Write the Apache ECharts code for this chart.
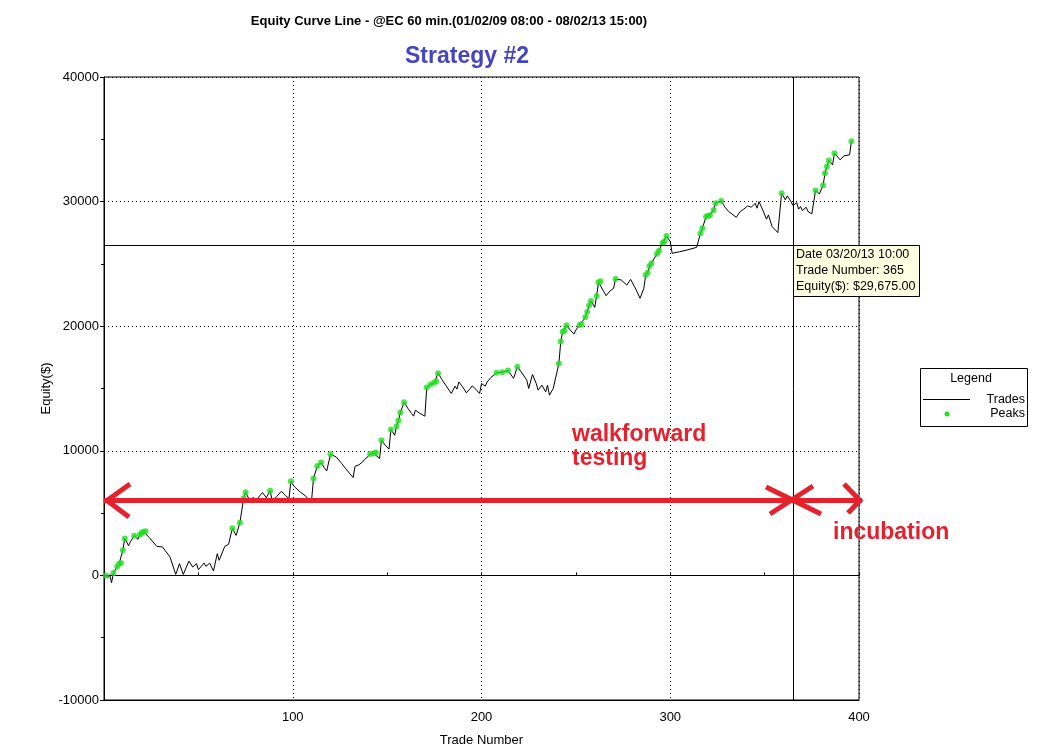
<!DOCTYPE html>
<html>
<head>
<meta charset="utf-8">
<title>Equity Curve Line</title>
<script src="https://cdn.jsdelivr.net/npm/echarts@6/dist/echarts.min.js"></script>
<style>
  html, body { margin: 0; padding: 0; background: #fff; }
  #chart { width: 1038px; height: 756px; }
</style>
</head>
<body>
<div id="chart"></div>
<script>
// trade number / equity ($)
const tradePoints = [
  [1,0],[2,-200],[3,50],[4,-590],[5,200],[7,720],[8,940],[9,990],[10,2010],[11,2970],
  [13,2380],[14,2700],[16,3190],[18,2890],[19,3270],[20,3430],[21,3510],[22,3540],[24,3030],[26,2680],
  [28,2330],[29,2490],[31,2280],[35,1470],[38,80],[40,940],[42,80],[45,1150],[47,670],[49,940],
  [50,460],[53,990],[54,720],[56,990],[58,350],[60,1740],[61,1210],[64,2330],[66,2490],[68,3780],
  [70,3210],[72,4230],[74,6190],[75,6670],[77,6080],[79,6240],[81,6080],[82,6290],[84,6650],[86,6240],
  [88,6800],[89,6080],[91,6240],[94,6750],[96,6430],[98,6160],[99,7550],[101,7100],[102,6970],[104,6690],
  [107,6350],[108,6160],[110,6080],[111,7770],[113,8780],[115,9060],[117,8570],[118,8380],[120,9720],[123,9510],
  [126,8970],[128,8570],[132,7850],[133,8760],[135,8870],[137,9100],[138,9300],[140,9560],[141,9750],[143,9780],
  [144,9860],[146,9380],[147,10850],[149,10450],[151,10130],[152,11710],[154,11250],[155,11970],[156,12430],[157,13070],
  [159,13900],[161,13400],[163,12990],[164,12780],[165,13260],[167,13040],[170,12780],[171,15080],[173,15320],[175,15490],
  [176,15590],[177,16230],[179,15730],[181,15270],[184,14600],[186,15190],[187,14950],[188,15530],[190,15130],[192,14650],
  [194,15000],[195,15210],[197,14940],[199,14600],[200,15400],[202,15190],[203,15530],[205,15890],[208,16260],[211,16310],
  [214,16450],[217,15810],[219,16740],[221,16340],[224,15670],[225,15000],[227,16130],[229,15400],[230,14870],[232,15270],
  [234,14730],[235,15270],[236,14460],[238,15000],[241,17010],[242,18780],[243,19550],[244,19640],[245,20070],[247,19690],
  [249,19370],[250,19690],[252,20100],[253,20150],[255,20710],[256,21130],[257,21670],[258,22020],[260,21510],[261,22420],
  [262,23520],[263,23600],[266,22450],[268,22820],[270,23040],[271,23790],[274,23710],[277,23300],[279,23760],[282,22900],
  [284,22240],[286,23040],[287,24110],[288,24290],[289,24830],[290,25050],[293,25820],[294,26060],[296,26700],[297,26820],
  [298,27240],[300,26790],[301,25850],[305,25980],[309,26120],[314,26330],[315,26440],[316,27460],[317,27860],[319,28790],
  [320,28870],[321,28900],[323,29330],[324,29870],[327,30050],[329,29550],[331,29200],[332,29330],[335,28740],[337,29200],
  [339,29400],[341,29650],[343,29550],[345,29870],[346,29470],[347,30000],[349,29330],[351,28580],[352,28930],[354,27990],
  [357,27510],[359,30670],[361,30140],[362,30460],[364,30000],[365,29675],[367,29920],[368,29390],[369,29600],[370,29280],
  [372,29550],[373,29200],[375,29010],[377,30890],[379,30620],[381,31320],[382,32280],[383,32810],[384,33290],[386,32950],
  [387,33890],[390,33350],[392,33670],[395,33750],[396,34850]
];

// trades marked as new equity peaks (green dots)
const peakTrades = [
  1,5,7,8,9,10,11,16,19,20,21,22,68,72,74,75,88,99,111,113,115,120,141,143,144,147,
  152,155,156,157,159,171,173,175,176,177,208,211,214,219,241,242,243,244,245,252,253,
  255,256,257,258,261,262,263,271,287,288,289,290,293,294,296,297,298,316,317,319,320,
  321,323,324,327,359,377,381,382,383,384,387,396
];

// cursor position shown by the crosshair / info box
const cursorTrade = 365;
const cursorEquity = 26530;
const cursorInfo = ['Date 03/20/13 10:00', 'Trade Number: 365', 'Equity($): $29,675.00'];

const equityByTrade = {};
tradePoints.forEach(function (p) { equityByTrade[p[0]] = p[1]; });
const peakPoints = peakTrades.map(function (t) { return [t, equityByTrade[t]]; });

const FONT = '"Liberation Sans", Arial, sans-serif';
const RED = '#E5212D';

const chart = echarts.init(document.getElementById('chart'));

const option = {
  animation: false,
  backgroundColor: '#fff',
  textStyle: { fontFamily: FONT, color: '#000' },
  grid: {
    left: 104, right: 179, top: 77, bottom: 56,
    show: true, borderColor: '#000', borderWidth: 1, backgroundColor: 'transparent'
  },
  xAxis: [
    {
      type: 'value', min: 0, max: 400, interval: 100,
      name: 'Trade Number', nameLocation: 'middle', nameGap: 34,
      nameTextStyle: { fontSize: 13, color: '#000', fontFamily: FONT },
      axisLine: { onZero: false, lineStyle: { color: '#000', width: 1 } },
      axisTick: { show: false },
      axisLabel: { showMinLabel: false, margin: 11, fontSize: 13, color: '#000', fontFamily: FONT },
      splitLine: { show: true, lineStyle: { color: '#000', type: [1, 3], width: 1 } }
    },
    {
      // zero line with its small ticks
      type: 'value', min: 0, max: 400, interval: 50,
      axisLine: { onZero: true, lineStyle: { color: '#000', width: 1 } },
      axisTick: { show: true, length: 3, lineStyle: { color: '#000' } },
      axisLabel: { show: false },
      splitLine: { show: false }
    }
  ],
  yAxis: {
    type: 'value', min: -10000, max: 40000, interval: 10000,
    name: 'Equity($)', nameLocation: 'middle', nameGap: 51, nameMoveOverlap: false,
    nameTextStyle: { fontSize: 13, color: '#000', fontFamily: FONT },
    axisLine: { show: true, onZero: false, lineStyle: { color: '#000', width: 1 } },
    axisTick: { show: true, length: 4, lineStyle: { color: '#000' } },
    minorTick: { show: true, splitNumber: 2, length: 3, lineStyle: { color: '#000' } },
    axisLabel: {
      margin: 5, fontSize: 13, color: '#000', fontFamily: FONT,
      formatter: function (v) { return String(v); }
    },
    splitLine: { show: true, lineStyle: { color: '#000', type: [1, 3], width: 1 } }
  },
  series: [
    {
      name: 'Trades',
      type: 'line',
      xAxisIndex: 0,
      data: tradePoints,
      showSymbol: false,
      symbol: 'none',
      lineStyle: { color: '#000', width: 1 },
      z: 3,
      markLine: {
        silent: true,
        symbol: 'none',
        label: { show: false },
        lineStyle: { color: '#000', type: 'solid', width: 1 },
        data: [{ xAxis: cursorTrade }, { yAxis: cursorEquity }]
      }
    },
    {
      name: 'Peaks',
      type: 'scatter',
      xAxisIndex: 0,
      data: peakPoints,
      symbol: 'circle',
      symbolSize: 6,
      itemStyle: { color: '#22E022' },
      z: 4
    }
  ],
  graphic: [
    // titles
    { type: 'text', x: 449, y: 21, z: 10,
      style: { text: 'Equity Curve Line - @EC 60 min.(01/02/09 08:00 - 08/02/13 15:00)',
        font: 'bold 13px ' + FONT, fill: '#000', textAlign: 'center', textVerticalAlign: 'middle' } },
    { type: 'text', x: 467, y: 57, z: 10,
      style: { text: 'Strategy #2', font: 'bold 23px ' + FONT, fill: '#4545C2',
        textAlign: 'center', textVerticalAlign: 'middle' } },

    // info box at the cursor
    { type: 'rect', shape: { x: 793.5, y: 245.5, width: 126, height: 51 }, z: 10,
      style: { fill: '#FFFFE1', stroke: '#000', lineWidth: 1 } },
    { type: 'text', x: 796, y: 255, z: 11,
      style: { text: cursorInfo[0], font: '12.5px ' + FONT, fill: '#000', textVerticalAlign: 'middle' } },
    { type: 'text', x: 796, y: 271, z: 11,
      style: { text: cursorInfo[1], font: '12.5px ' + FONT, fill: '#000', textVerticalAlign: 'middle' } },
    { type: 'text', x: 796, y: 287, z: 11,
      style: { text: cursorInfo[2], font: '12.5px ' + FONT, fill: '#000', textVerticalAlign: 'middle' } },

    // legend box
    { type: 'rect', shape: { x: 920.5, y: 368.5, width: 107, height: 58 }, z: 10,
      style: { fill: '#fff', stroke: '#000', lineWidth: 1 } },
    { type: 'text', x: 971, y: 379, z: 11,
      style: { text: 'Legend', font: '12.5px ' + FONT, fill: '#000', textAlign: 'center', textVerticalAlign: 'middle' } },
    { type: 'line', shape: { x1: 923, y1: 399.5, x2: 970, y2: 399.5 }, z: 11,
      style: { stroke: '#000', lineWidth: 1 } },
    { type: 'text', x: 1025, y: 400, z: 11,
      style: { text: 'Trades', font: '12.5px ' + FONT, fill: '#000', textAlign: 'right', textVerticalAlign: 'middle' } },
    { type: 'circle', shape: { cx: 947, cy: 414, r: 2.5 }, z: 11, style: { fill: '#22E022' } },
    { type: 'text', x: 1025, y: 414, z: 11,
      style: { text: 'Peaks', font: '12.5px ' + FONT, fill: '#000', textAlign: 'right', textVerticalAlign: 'middle' } },

    // red annotation arrows
    { type: 'polyline', shape: { points: [[104, 500.5], [862, 500.5]] }, z: 12,
      style: { stroke: RED, lineWidth: 5, fill: null } },
    { type: 'polyline', shape: { points: [[130, 484], [107, 500.5], [129, 517]] }, z: 12,
      style: { stroke: RED, lineWidth: 5, fill: null, lineJoin: 'miter' } },
    { type: 'polyline', shape: { points: [[766, 487], [821, 514]] }, z: 12,
      style: { stroke: RED, lineWidth: 5, fill: null } },
    { type: 'polyline', shape: { points: [[813, 486], [770, 514]] }, z: 12,
      style: { stroke: RED, lineWidth: 5, fill: null } },
    { type: 'polyline', shape: { points: [[844, 484], [860, 500.5], [848, 513]] }, z: 12,
      style: { stroke: RED, lineWidth: 5, fill: null, lineJoin: 'miter' } },

    // red annotation text
    { type: 'text', x: 572, y: 435, z: 12,
      style: { text: 'walkforward', font: 'bold 23px ' + FONT, fill: RED, textVerticalAlign: 'middle' } },
    { type: 'text', x: 572, y: 459, z: 12,
      style: { text: 'testing', font: 'bold 23px ' + FONT, fill: RED, textVerticalAlign: 'middle' } },
    { type: 'text', x: 833, y: 533, z: 12,
      style: { text: 'incubation', font: 'bold 23px ' + FONT, fill: RED, textVerticalAlign: 'middle' } }
  ]
};

chart.setOption(option);

window.addEventListener('resize', function () {
  chart.resize();
});
</script>
</body>
</html>
